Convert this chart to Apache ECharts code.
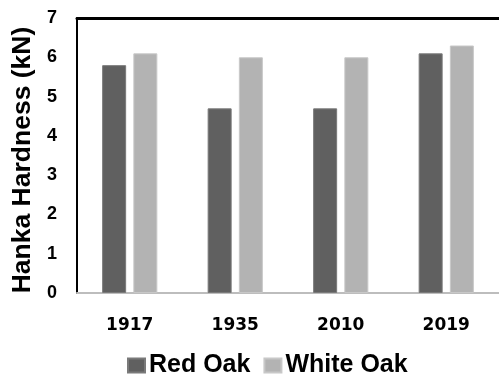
<!DOCTYPE html>
<html>
<head>
<meta charset="utf-8">
<script src="https://cdn.jsdelivr.net/npm/echarts@6/dist/echarts.min.js"></script>
<style>
  html, body { margin: 0; padding: 0; background: #fff; }
  #chart { width: 499px; height: 377px; }
</style>
</head>
<body>
<div id="chart"></div>
<script>
// Hanka hardness of red and white oak by source year
const years = ['1917', '1935', '2010', '2019'];
const redOak = [5.8, 4.7, 4.7, 6.1];
const whiteOak = [6.1, 6.0, 6.0, 6.3];
const yTicks = { min: 0, max: 7, interval: 1 };

const chart = echarts.init(document.getElementById('chart'));
chart.setOption({
  animation: false,
  backgroundColor: '#ffffff',
  grid: { left: 77, top: 18, right: -10, bottom: 84 },
  legend: {
    top: 353,
    left: 127,
    padding: 0,
    itemWidth: 17,
    itemHeight: 14,
    itemGap: 13,
    icon: 'rect',
    textStyle: { fontFamily: 'Liberation Sans', fontWeight: 'bold', fontSize: 25, color: '#000', padding: [0, 0, 0, -1] },
    data: ['Red Oak', 'White Oak']
  },
  xAxis: [{
    type: 'category',
    data: years,
    axisLine: { lineStyle: { color: '#bdbdbd', width: 2 } },
    axisTick: { show: false },
    axisLabel: { fontFamily: 'DejaVu Sans', fontWeight: 'bold', fontSize: 17, color: '#000', margin: 24 }
  }, {
    type: 'category',
    position: 'top',
    data: years,
    axisLine: { lineStyle: { color: '#000', width: 3 } },
    axisTick: { show: false },
    axisLabel: { show: false }
  }],
  yAxis: {
    type: 'value',
    min: yTicks.min,
    max: yTicks.max,
    interval: yTicks.interval,
    name: 'Hanka Hardness (kN)',
    nameLocation: 'middle',
    nameGap: 40,
    nameTextStyle: { fontFamily: 'Liberation Sans', fontWeight: 'bold', fontSize: 26.5, color: '#000', padding: [0, 9, 0, 0] },
    axisLine: { show: true, lineStyle: { color: '#000', width: 2 } },
    axisTick: { show: false },
    splitLine: { show: false },
    axisLabel: { fontFamily: 'Liberation Sans', fontWeight: 'bold', fontSize: 18, color: '#000', margin: 20 }
  },
  series: [{
    name: 'Red Oak',
    type: 'bar',
    data: redOak,
    barWidth: 24,
    barGap: '30%',
    itemStyle: { color: '#606060', borderColor: '#7a7a7a', borderWidth: 1 }
  }, {
    name: 'White Oak',
    type: 'bar',
    data: whiteOak,
    barWidth: 24,
    itemStyle: { color: '#b3b3b3', borderColor: '#c8c8c8', borderWidth: 1 }
  }]
});
</script>
</body>
</html>
